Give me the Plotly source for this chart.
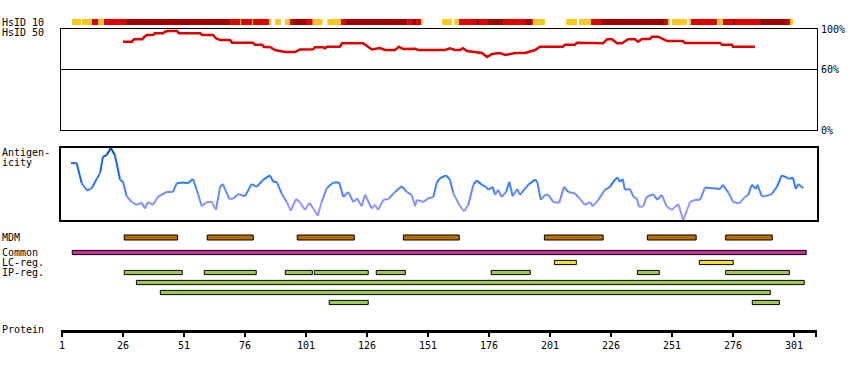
import plotly.graph_objects as go

# ---------------- data ----------------
ruler_ticks = [1, 26, 51, 76, 101, 126, 151, 176, 201, 226, 251, 276, 301]
protein_end = 310.2

# HsID 10 identity strip: segment start/end residues and level
hsid10_start = [5.1, 9.2, 13.3, 15.8, 18.2, 27.2, 69.9, 74.0, 74.4, 78.9, 79.3, 85.8, 88.3, 92.4, 94.4,
                95.3, 101.0, 103.7, 109.7, 115.3, 117.4, 142.7, 144.4, 146.1, 148.1, 156.7, 161.7, 163.7,
                170.7, 171.9, 175.6, 182.1, 190.8, 193.2, 194.0, 207.6, 212.9, 217.8, 221.9, 248.1, 249.4,
                251.0, 258.0, 258.8, 269.4, 271.9, 276.0, 276.8, 287.1, 298.5, 299.4]
hsid10_end = [8.8, 13.3, 15.8, 18.2, 27.2, 69.9, 74.0, 74.4, 78.9, 79.3, 85.8, 86.7, 90.8, 94.4, 95.3,
              101.0, 103.7, 107.8, 115.3, 117.4, 142.7, 144.4, 146.1, 148.1, 148.8, 160.8, 163.7, 170.7,
              171.9, 175.6, 182.1, 190.8, 193.2, 194.0, 198.9, 212.1, 217.8, 221.9, 248.1, 249.4, 250.2,
              257.1, 258.8, 269.4, 271.9, 276.0, 276.8, 287.1, 298.5, 299.4, 300.6]
hsid10_level = ["lo", "lo", "mid", "lo", "mid", "hi", "mid", "lo", "mid", "lo", "mid", "lo", "lo", "lo", "mid",
                "hi", "mid", "lo", "lo", "mid", "hi", "mid", "hi", "mid", "lo", "lo", "lo", "mid",
                "hi", "mid", "hi", "mid", "hi", "mid", "lo", "lo", "lo", "mid", "hi", "mid", "lo",
                "lo", "lo", "mid", "lo", "mid", "hi", "mid", "hi", "mid", "lo"]

# HsID 50 identity line (percent)
hsid50_res = [26.0, 29.7, 30.5, 33.8, 34.6, 35.8, 38.3, 39.1, 42.4, 43.2, 44.4, 48.1, 48.9, 57.6, 58.4,
              62.9, 64.1, 65.8, 69.9, 70.7, 79.3, 80.1, 83.0, 83.8, 86.2, 88.3, 92.4, 96.5, 98.5, 103.9,
              104.7, 108.0, 108.8, 109.6, 114.9, 115.8, 124.4, 126.4, 128.0, 131.3, 133.4, 137.5, 139.1,
              140.8, 142.4, 145.7, 146.9, 158.0, 160.0, 162.1, 164.1, 165.3, 167.0, 170.3, 173.1, 175.2,
              177.2, 180.5, 182.6, 186.7, 190.8, 194.9, 196.9, 206.3, 207.1, 211.2, 212.1, 222.7, 224.4,
              226.4, 228.5, 230.5, 233.0, 235.8, 237.1, 238.7, 242.0, 242.8, 245.3, 249.0, 255.5, 256.3,
              270.7, 271.5, 275.6, 276.0, 285.0]
hsid50_pct = [87.4, 87.4, 89.8, 89.8, 91.8, 94.1, 94.1, 95.7, 95.7, 97.3, 98.0, 98.0, 95.7, 95.7, 94.1,
              94.1, 90.8, 89.1, 89.1, 86.4, 86.4, 84.5, 84.5, 82.2, 82.2, 79.2, 77.2, 77.2, 79.7, 79.9,
              81.9, 81.9, 80.9, 82.5, 82.5, 85.8, 85.8, 82.2, 79.7, 81.2, 79.2, 79.2, 82.5,
              80.2, 80.5, 80.5, 79.2, 79.2, 80.9, 79.2, 79.2, 80.9, 78.2, 77.2, 76.2, 72.3,
              75.2, 76.2, 74.3, 76.2, 76.2, 79.2, 82.5, 82.5, 84.5, 84.5, 86.4, 85.8, 89.8,
              89.8, 85.8, 85.8, 89.8, 89.8, 87.4, 90.1, 90.1, 92.4, 92.4, 88.1, 88.1, 86.1,
              86.1, 84.5, 84.5, 82.5, 82.5]

# Antigenicity profile (relative score, 0 = panel bottom, 100 = panel top)
antigen_res = [4.7, 7.0, 9.1, 11.2, 13.2, 15.2, 16.6, 17.8, 19.3, 21.0, 22.7, 24.8, 26.0, 27.5, 29.6,
               31.6, 33.7, 35.0, 36.2, 38.3, 40.3, 43.9, 46.5, 48.0, 50.6, 52.6, 54.7, 56.2, 58.3, 60.3,
               62.4, 64.1, 65.8, 66.9, 69.6, 71.2, 73.3, 76.0, 78.7, 80.8, 83.5, 86.2, 87.6, 89.0, 91.0,
               93.1, 94.7, 96.9, 98.5, 100.6, 102.4, 104.0, 105.8, 107.4, 109.5, 112.2, 114.6, 116.3, 118.3,
               120.4, 122.0, 123.8, 125.2, 127.9, 129.3, 130.6, 132.7, 134.7, 137.5, 140.2, 142.3, 144.3,
               145.7, 146.4, 149.1, 151.1, 153.2, 154.6, 155.9, 158.4, 160.0, 161.4, 163.8, 165.8, 167.5,
               169.6, 171.0, 173.0, 174.8, 175.7, 177.5, 178.5, 179.8, 181.2, 183.0, 184.3, 185.7, 187.6,
               188.7, 192.1, 194.9, 195.8, 197.2, 199.0, 200.3, 202.4, 204.8, 206.7, 208.5, 211.2, 212.6,
               215.3, 217.4, 218.5, 220.8, 223.5, 225.6, 227.6, 228.6, 229.7, 230.8, 231.7, 233.8, 235.2,
               236.5, 237.6, 239.2, 240.6, 243.3, 245.0, 246.8, 248.8, 250.9, 252.2, 253.6, 255.6, 258.4,
               260.4, 262.5, 264.5, 270.7, 271.8, 274.1, 276.1, 278.6, 280.9, 282.3, 283.7, 285.4, 286.0,
               287.8, 289.1, 291.9, 294.0, 296.0, 298.0, 299.1, 300.5, 301.8, 302.8, 304.8]
antigen_val = [79, 79, 51, 41, 44, 57, 65, 88, 90, 100, 90, 56, 53, 33, 25,
               21, 24, 16, 25, 21, 32, 39, 39, 51, 52, 51, 57, 42, 19, 25,
               25, 14, 46, 50, 29, 30, 36, 33, 50, 46, 56, 62, 53, 53, 37,
               25, 13, 29, 25, 14, 24, 16, 6, 25, 44, 52, 52, 32, 39,
               25, 30, 19, 35, 16, 21, 14, 28, 29, 39, 47, 39, 35,
               19, 28, 25, 30, 32, 52, 58, 62, 56, 37, 21, 12, 21,
               49, 55, 49, 46, 42, 46, 35, 42, 32, 39, 53, 33, 43,
               35, 49, 56, 53, 28, 35, 35, 25, 24, 46, 39, 37, 32,
               21, 25, 19, 28, 42, 46, 56, 59, 53, 57, 42, 43, 32,
               30, 18, 19, 32, 36, 28, 35, 19, 14, 18, 22, 0, 25,
               28, 28, 45, 43, 49, 38, 25, 23, 32, 35, 49, 43, 49,
               33, 33, 36, 46, 62, 59, 57, 59, 43, 50, 44]

# Feature tracks (residue ranges)
mdm_start = [26.5, 60.5, 97.4, 140.9, 198.7, 240.9, 273.0]
mdm_end = [48.4, 79.4, 120.8, 163.8, 222.8, 260.9, 292.1]
common_start = [5.2]
common_end = [306.0]
lc_start = [202.8, 262.2]
lc_end = [211.8, 276.1]
ip_start = [26.5, 59.3, 92.5, 104.4, 129.8, 176.9, 236.8, 273.0, 31.5, 41.3, 110.5, 283.9]
ip_end = [50.3, 80.6, 103.6, 126.5, 141.7, 192.9, 245.8, 299.1, 305.2, 291.3, 126.5, 295.0]
ip_line = [1, 1, 1, 1, 1, 1, 1, 1, 2, 3, 4, 4]

track_labels = ["MDM", "Common", "LC-reg.", "IP-reg."]

# ---------------- layout helpers ----------------
W, H = 850, 370
FONT = "DejaVu Sans Mono"


def py(p):
    return 1 - p / H


X_DOMAIN = [61 / W, 817 / W]
X_RANGE = [1 - 1 / 2.44, 1 + 755 / 2.44]

LEVEL_COLORS = {"lo": "#ffc820", "mid": "#e00000", "hi": "#a00000"}

fig = go.Figure()

# HsID 10 strip
for lvl, col in LEVEL_COLORS.items():
    idx = [i for i, l in enumerate(hsid10_level) if l == lvl]
    fig.add_trace(go.Bar(
        orientation="h",
        base=[hsid10_start[i] for i in idx],
        x=[hsid10_end[i] - hsid10_start[i] for i in idx],
        y=[0.5] * len(idx), width=1,
        marker=dict(color=col, line=dict(width=0)),
        xaxis="x", yaxis="y"))

# HsID 50 line
fig.add_trace(go.Scatter(x=hsid50_res, y=hsid50_pct, mode="lines",
                         line=dict(color="#e00000", width=2.5),
                         xaxis="x2", yaxis="y2"))

# Antigenicity line, coloured by value
BINS = [(90, "#0b4ea6"), (80, "#135bc4"), (65, "#1b68e0"), (50, "#2a7aff"),
        (40, "#4682ff"), (30, "#6a8aff"), (20, "#8690ff"), (10, "#9a96ff"), (-999, "#ae9eff")]
groups = {c: ([], []) for _, c in BINS}
for i in range(len(antigen_res) - 1):
    m = (antigen_val[i] + antigen_val[i + 1]) / 2
    for thr, c in BINS:
        if m >= thr:
            groups[c][0].extend([antigen_res[i], antigen_res[i + 1], None])
            groups[c][1].extend([antigen_val[i], antigen_val[i + 1], None])
            break
for c, (xs, ys) in groups.items():
    if xs:
        fig.add_trace(go.Scatter(x=xs, y=ys, mode="lines",
                                 line=dict(color=c, width=2),
                                 xaxis="x3", yaxis="y3"))

# Feature bars
ROW_Y = {"MDM": 0, "Common": 1.5, "LC": 2.5, "IP1": 3.5, "IP2": 4.5, "IP3": 5.5, "IP4": 6.5}


def feature_bar(starts, ends, rows, color, thick):
    fig.add_trace(go.Bar(
        orientation="h", base=starts, x=[e - s for s, e in zip(starts, ends)],
        y=rows, width=thick,
        marker=dict(color=color, line=dict(color="black", width=1)),
        xaxis="x4", yaxis="y4"))


feature_bar(mdm_start, mdm_end, [ROW_Y["MDM"]] * len(mdm_start), "#b86e00", 0.5)
feature_bar(common_start, common_end, [ROW_Y["Common"]] * len(common_start), "#cc2e9e", 0.42)
feature_bar(lc_start, lc_end, [ROW_Y["LC"]] * len(lc_start), "#f2e030", 0.42)
feature_bar(ip_start, ip_end, [ROW_Y["IP%d" % k] for k in ip_line], "#a0c850", 0.42)

# Ruler (invisible data carrier)
fig.add_trace(go.Scatter(x=[ruler_ticks[0], protein_end], y=[0, 0], mode="lines",
                         line=dict(width=0), xaxis="x5", yaxis="y5", hoverinfo="skip"))

tickfont = dict(family=FONT, size=10, color="black")
xcommon = dict(domain=X_DOMAIN, range=X_RANGE, showgrid=False, zeroline=False,
               fixedrange=True, automargin=False)

fig.update_layout(
    width=W, height=H, margin=dict(l=0, r=0, t=0, b=0, pad=0, autoexpand=False),
    paper_bgcolor="white", plot_bgcolor="white",
    showlegend=False, barmode="overlay", hovermode=False,
    xaxis=dict(**xcommon, visible=False, anchor="y"),
    yaxis=dict(domain=[py(25), py(19)], range=[0, 1], visible=False, anchor="x", automargin=False),
    xaxis2=dict(**xcommon, anchor="y2", showline=True, mirror=True, linecolor="black",
                linewidth=1, showticklabels=False, ticks=""),
    yaxis2=dict(domain=[py(130), py(29)], range=[0, 100], anchor="x2", side="right",
                showline=True, mirror=True, linecolor="black", linewidth=1,
                tickvals=[0, 60, 100], ticktext=["0%", "60%", "100%"], ticks="",
                showgrid=True, gridcolor="black", gridwidth=1, zeroline=False,
                tickfont=tickfont, ticklabelstandoff=1, automargin=False),
    xaxis3=dict(**xcommon, anchor="y3", showline=True, mirror=True, linecolor="black",
                linewidth=2, showticklabels=False, ticks=""),
    yaxis3=dict(domain=[py(220), py(148)], range=[0, 100], anchor="x3",
                showline=True, mirror=True, linecolor="black", linewidth=2,
                showticklabels=False, ticks="", showgrid=False, zeroline=False, automargin=False),
    xaxis4=dict(**xcommon, visible=False, anchor="y4"),
    yaxis4=dict(domain=[py(310), py(230)], range=[7.25, -0.75], visible=False, anchor="x4",
                automargin=False),
    xaxis5=dict(**xcommon, anchor="y5", showline=True, linecolor="black", linewidth=3,
                ticks="outside", ticklen=4, tickwidth=2, tickcolor="black",
                tickvals=ruler_ticks + [protein_end],
                ticktext=[str(t) for t in ruler_ticks] + [""],
                tickfont=tickfont),
    yaxis5=dict(domain=[py(329.5), py(320)], range=[0, 1], visible=False, anchor="x5",
                automargin=False),
)

labels = [("HsID 10", 22), ("HsID 50", 33), ("Antigen-", 152), ("icity", 163),
          (track_labels[0], 237.5), (track_labels[1], 252), (track_labels[2], 262),
          (track_labels[3], 272), ("Protein", 329)]
for txt, yy in labels:
    fig.add_annotation(text=txt, x=1 / W, y=py(yy), xref="paper", yref="paper",
                       xanchor="left", yanchor="middle", showarrow=False, borderpad=0,
                       font=dict(family=FONT, size=10, color="black"))

fig.write_html("out.html", config={"displayModeBar": False},
               post_script="document.body.style.margin='0px';document.body.style.padding='0px';"
                           "document.documentElement.style.overflow='hidden';")
